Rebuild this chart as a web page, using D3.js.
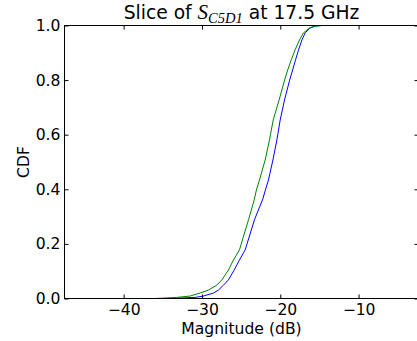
<!DOCTYPE html>
<html>
<head>
<meta charset="utf-8">
<script src="https://cdn.jsdelivr.net/npm/d3@7"></script>
<style>
  body { margin: 0; background: #fff; }
  svg { display: block; font-family: "DejaVu Sans", sans-serif; }
</style>
</head>
<body>
<svg id="chart" width="417" height="341"></svg>
<script>
var cdfLevels = [0, 0.004, 0.009, 0.020, 0.031, 0.049, 0.068, 0.104, 0.141, 0.178, 0.288, 0.324, 0.361, 0.397, 0.434, 0.507, 0.581, 0.654, 0.727, 0.8, 0.837, 0.874, 0.91, 0.947, 0.973, 0.991, 0.998, 1.0];
var greenDb = [-35.98, -33.21, -31.51, -30.23, -29.17, -28.10, -27.46, -26.62, -25.98, -25.21, -24.06, -23.70, -23.33, -23.05, -22.66, -21.93, -21.38, -20.90, -20.15, -19.45, -19.05, -18.60, -18.12, -17.55, -17.04, -16.27, -15.54, -14.69];
var blueDb  = [-34.48, -30.87, -29.81, -28.53, -27.89, -27.25, -26.62, -25.89, -25.21, -24.48, -23.30, -22.80, -22.27, -21.90, -21.51, -20.94, -20.43, -20.01, -19.46, -18.80, -18.42, -18.05, -17.67, -17.24, -16.82, -16.18, -15.54, -14.69];

var xTicks = [-40, -30, -20, -10];
var yTicks = [0, 0.2, 0.4, 0.6, 0.8, 1.0];

function drawChart() {
  var svg = d3.select("#chart");

  var pLeft = 64.5, pRight = 418.5, pTop = 25.5, pBottom = 298.5;

  var x = d3.scaleLinear().domain([-47.55, -2.35]).range([pLeft, pRight]);
  var y = d3.scaleLinear().domain([0, 1]).range([pBottom, pTop]);

  var line = d3.line()
    .x(d => x(d[0]))
    .y(d => y(d[1]));

  var series = [
    { color: "#0000ff", values: blueDb },
    { color: "#008000", values: greenDb }
  ];

  svg.append("defs").append("clipPath").attr("id", "clip")
    .append("rect")
    .attr("x", pLeft).attr("y", pTop - 1)
    .attr("width", pRight - pLeft).attr("height", pBottom - pTop + 2);

  series.forEach(function (s) {
    var pts = s.values.map((v, i) => [v, cdfLevels[i]]);
    pts.push([x.domain()[1] + 1, 1]); // stays at 1 to the right edge
    svg.append("path")
      .datum(pts)
      .attr("d", line)
      .attr("fill", "none")
      .attr("stroke", s.color)
      .attr("stroke-width", 1)
      .attr("clip-path", "url(#clip)");
  });

  // axes, ticks inward like matplotlib classic
  var fs = 15.6;

  var xAxisB = d3.axisBottom(x).tickValues(xTicks).tickSizeInner(-4).tickSizeOuter(0).tickPadding(5)
    .tickFormat(d => d3.format("d")(d).replace("-", "\u2212"));
  svg.append("g").attr("transform", "translate(0," + pBottom + ")").call(xAxisB)
    .call(g => g.select(".domain").remove())
    .selectAll("text").attr("font-size", fs).attr("font-family", "DejaVu Sans").attr("fill", "#000");

  var xAxisT = d3.axisTop(x).tickValues(xTicks).tickSizeInner(-4).tickSizeOuter(0).tickFormat("");
  svg.append("g").attr("transform", "translate(0," + pTop + ")").call(xAxisT)
    .call(g => g.select(".domain").remove());

  var yAxisL = d3.axisLeft(y).tickValues(yTicks).tickSizeInner(-4).tickSizeOuter(0).tickPadding(4)
    .tickFormat(d3.format(".1f"));
  svg.append("g").attr("transform", "translate(" + pLeft + ",0)").call(yAxisL)
    .call(g => g.select(".domain").remove())
    .selectAll("text").attr("font-size", fs).attr("font-family", "DejaVu Sans").attr("fill", "#000");

  var yAxisR = d3.axisRight(y).tickValues(yTicks).tickSizeInner(-4).tickSizeOuter(0).tickFormat("");
  svg.append("g").attr("transform", "translate(" + pRight + ",0)").call(yAxisR)
    .call(g => g.select(".domain").remove());

  // frame
  svg.append("rect")
    .attr("x", pLeft).attr("y", pTop)
    .attr("width", pRight - pLeft).attr("height", pBottom - pTop)
    .attr("fill", "none").attr("stroke", "#000").attr("stroke-width", 1);

  // labels
  svg.append("text")
    .attr("x", (pLeft + pRight) / 2).attr("y", 334)
    .attr("text-anchor", "middle").attr("font-size", fs)
    .text("Magnitude (dB)");

  svg.append("text")
    .attr("transform", "translate(28.5," + ((pTop + pBottom) / 2) + ") rotate(-90)")
    .attr("text-anchor", "middle").attr("font-size", fs)
    .text("CDF");

  var title = svg.append("text")
    .attr("x", (pLeft + pRight) / 2).attr("y", 19)
    .attr("text-anchor", "middle").attr("font-size", 18.7);
  title.append("tspan").text("Slice of ");
  title.append("tspan").attr("font-family", "Liberation Serif").attr("font-style", "italic")
    .attr("font-size", 21).text("S");
  title.append("tspan").attr("font-family", "Liberation Serif").attr("font-style", "italic")
    .attr("font-size", 14.5).attr("dy", 3.5).text("C5D1");
  title.append("tspan").attr("dy", -3.5).text(" at 17.5 GHz");
}

drawChart();
</script>
</body>
</html>
